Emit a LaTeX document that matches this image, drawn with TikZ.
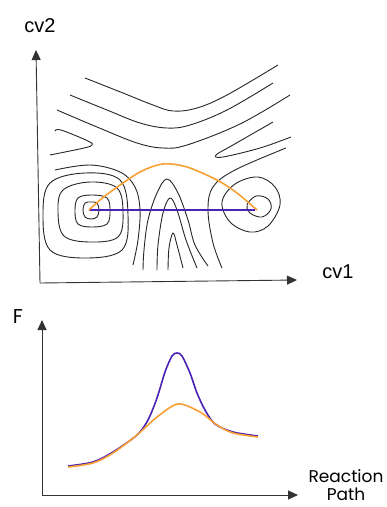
\documentclass[tikz,border=0pt]{standalone}
\usepackage{fontspec}
\setmainfont{Liberation Sans}
\newfontfamily\geofont{Poppins}
\usetikzlibrary{arrows.meta}
\definecolor{pathblue}{HTML}{4B22B5}
\definecolor{pathorange}{HTML}{F8A034}
\begin{document}
\begin{tikzpicture}[x=1pt,y=-1pt,
		contour/.style={line width=0.9pt,black!85,smooth,tension=0.6},
		axis/.style={line width=0.9pt,black!80,-{Triangle[length=10pt,width=9pt]}},
		label/.style={font=\fontsize{20}{22}\selectfont},
		geolabel/.style={font=\geofont\fontsize{17}{18}\selectfont}]
				\useasboundingbox (0,0) rectangle (387,507);
				% upper panel: axes
				\coordinate (O) at (40,283);
				\coordinate (Y) at (36,50);
				\coordinate (X) at (297,280);
				\draw[axis] (O)--(Y);
				\draw[axis] (O)--(X);
				\node[label] (cvtwo) at (40,26) {cv2};
				\node[label] (cvone) at (338,272) {cv1};
				% upper panel: contour lines
				\draw[contour] plot coordinates {(85,78) (123,93) (153,105) (173,111) (197,108) (227,95) (278,65)};
				\draw[contour] plot coordinates {(70,95) (107,110) (140,123) (167,128) (190,125) (227,110) (273,83)};
				\draw[contour] plot coordinates {(57,110) (97,127) (137,143) (163,148) (187,145) (240,124) (290,95)};
				\draw[contour] plot coordinates {(55,131) (61,130) (88,141) (92,145) (84,148) (50,155)};
				\draw[contour] plot coordinates {(273,122) (233,145) (216,155) (223,157) (260,148) (291,137)};
				\draw[contour] plot coordinates {(55,170) (90,165) (120,172) (135,187) (140,210) (138,240) (133,265)};
				\draw[contour] plot coordinates {(286,148) (235,170) (213,187) (208,210) (213,243) (222,268)};
				% left basin
				\draw[contour] plot[smooth cycle] coordinates {(43,215) (50,183) (85,173) (120,180) (128,215) (122,250) (85,258) (50,250)};
				\draw[contour] plot[smooth cycle] coordinates {(58,212) (63,190) (90,182) (117,188) (123,212) (118,237) (90,242) (64,236)};
				\draw[contour] plot[smooth cycle] coordinates {(75,211) (78,198) (92,195) (107,198) (110,211) (107,224) (92,227) (78,224)};
				\draw[contour] plot[smooth cycle] coordinates {(83,210) (85,203) (91,202) (97,203) (99,210) (97,217) (91,219) (85,217)};
				% barrier
				\draw[contour] plot coordinates {(143,270) (144,250) (148,220) (157,193) (167,179) (178,193) (188,220) (195,245) (208,266)};
				\draw[contour] plot coordinates {(157,270) (158,245) (163,213) (170,198) (177,210) (186,240) (197,268)};
				\draw[contour] plot coordinates {(168,270) (169,248) (173,233) (177,245) (183,268)};
				% right basin
				\draw[contour] plot[smooth cycle] coordinates {(222,202) (235,184) (258,177) (275,187) (280,205) (268,226) (250,232) (230,222)};
				\draw[contour] plot[smooth cycle] coordinates {(247,205) (256,196) (268,199) (271,209) (262,217) (250,213)};
				% paths between the minima
				\coordinate (A) at (89,210);
				\coordinate (B) at (255,210);
				\draw[pathblue,line width=1.8pt] (A)--(B);
				\draw[pathorange,line width=1.6pt,smooth] plot coordinates {(89,210) (100,200) (113,190) (140,172) (163,164) (187,167) (217,180) (237,193) (257,210)};
				% lower panel: axes
				\coordinate (P) at (42,495);
				\coordinate (F) at (42,320);
				\coordinate (R) at (298,495);
				\draw[axis] (P)--(F);
				\draw[axis] (P)--(R);
				\node[geolabel,font=\geofont\fontsize{20}{20}\selectfont] (flabel) at (18,317) {F};
				\node[geolabel,align=center,inner sep=1pt] (rpath) at (346,485) {Reaction\\Path};
				% lower panel: free energy profiles
				\draw[pathblue,line width=1.6pt,smooth] plot coordinates {(68,466) (93,462) (113,452) (137,435) (148,420) (157,398) (165,372) (172,356) (177,353) (182,356) (190,373) (197,393) (205,410) (215,424) (233,432) (258,436)};
				\draw[pathorange,line width=1.6pt,smooth] plot coordinates {(68,467) (93,463) (113,453) (137,435) (157,417) (178,404) (200,412) (217,425) (233,433) (258,437)};
			\end{tikzpicture}
\end{document}
